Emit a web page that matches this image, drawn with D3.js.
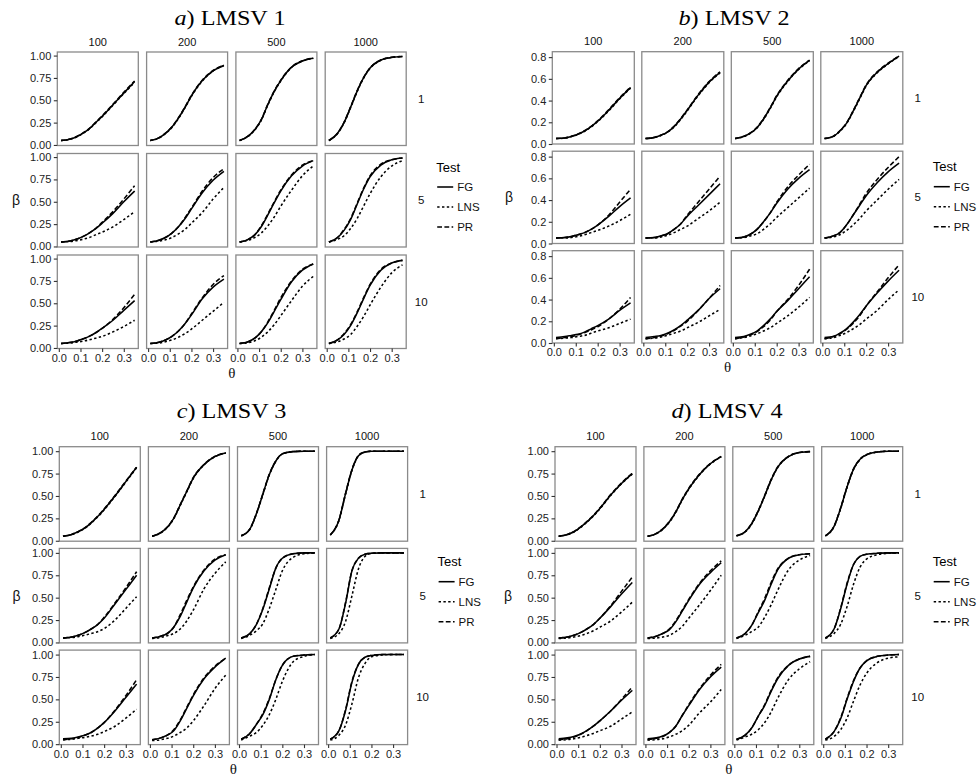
<!DOCTYPE html>
<html><head><meta charset="utf-8">
<script src="https://cdn.jsdelivr.net/npm/d3@7"></script>
<style>body{margin:0;background:#fff;}svg{display:block;}</style>
</head><body><svg id="c" width="979" height="778"></svg>
<script>
// ---- data ----
const thetas = [0.01, 0.05, 0.08, 0.11, 0.14, 0.17, 0.20, 0.25, 0.30, 0.35];
const sampleSizes = ["100", "200", "500", "1000"];
const lagLabels = ["1", "5", "10"];
const tests = ["FG", "LNS", "PR"];
const xTicks = [0, 0.1, 0.2, 0.3];
const yTicks01 = [0, 0.25, 0.5, 0.75, 1];
const yTicks08 = [0, 0.2, 0.4, 0.6, 0.8];

// rows = lag 1,5,10 ; columns = n 100,200,500,1000
const lmsv1FG = [
 [[0.05,0.065,0.09,0.13,0.18,0.25,0.32,0.45,0.58,0.71],[0.05,0.08,0.13,0.2,0.3,0.42,0.55,0.72,0.83,0.89],[0.05,0.1,0.17,0.28,0.45,0.6,0.72,0.87,0.94,0.97],[0.05,0.13,0.25,0.42,0.6,0.75,0.86,0.95,0.98,0.99]],
 [[0.05,0.06,0.08,0.11,0.15,0.2,0.26,0.37,0.5,0.62],[0.05,0.07,0.1,0.15,0.22,0.31,0.42,0.6,0.74,0.84],[0.05,0.08,0.13,0.22,0.35,0.49,0.62,0.79,0.9,0.96],[0.05,0.1,0.18,0.3,0.47,0.64,0.78,0.91,0.97,0.99]],
 [[0.05,0.06,0.075,0.1,0.13,0.17,0.22,0.31,0.42,0.53],[0.05,0.065,0.09,0.13,0.19,0.27,0.37,0.55,0.68,0.77],[0.05,0.07,0.11,0.18,0.28,0.41,0.54,0.74,0.87,0.94],[0.05,0.09,0.15,0.25,0.39,0.55,0.7,0.87,0.95,0.98]]
];
const lmsv1LNS = [
 [[0.05,0.062,0.087,0.126,0.176,0.245,0.315,0.445,0.575,0.70],[0.05,0.078,0.127,0.196,0.295,0.415,0.545,0.715,0.828,0.888],[0.05,0.098,0.167,0.276,0.445,0.595,0.716,0.867,0.938,0.969],[0.05,0.128,0.246,0.415,0.595,0.746,0.857,0.948,0.979,0.99]],
 [[0.05,0.055,0.065,0.08,0.1,0.13,0.16,0.22,0.3,0.39],[0.05,0.06,0.075,0.1,0.14,0.19,0.26,0.38,0.53,0.66],[0.05,0.07,0.1,0.15,0.23,0.33,0.45,0.63,0.79,0.9],[0.05,0.08,0.12,0.2,0.31,0.45,0.59,0.78,0.9,0.96]],
 [[0.05,0.055,0.065,0.075,0.09,0.11,0.13,0.18,0.24,0.31],[0.05,0.055,0.07,0.09,0.12,0.16,0.21,0.31,0.41,0.51],[0.05,0.06,0.08,0.12,0.18,0.26,0.36,0.53,0.69,0.8],[0.05,0.07,0.1,0.15,0.24,0.35,0.48,0.68,0.84,0.93]]
];
const lmsv1PR = [
 [[0.05,0.066,0.092,0.132,0.183,0.253,0.325,0.455,0.59,0.715],[0.05,0.081,0.132,0.203,0.304,0.424,0.555,0.724,0.833,0.892],[0.05,0.101,0.172,0.283,0.454,0.604,0.724,0.872,0.942,0.971],[0.05,0.131,0.253,0.424,0.604,0.754,0.862,0.951,0.981,0.99]],
 [[0.05,0.06,0.08,0.11,0.15,0.2,0.27,0.39,0.53,0.68],[0.05,0.07,0.1,0.15,0.22,0.32,0.43,0.62,0.77,0.87],[0.05,0.08,0.13,0.23,0.36,0.5,0.63,0.8,0.91,0.96],[0.05,0.1,0.19,0.31,0.48,0.65,0.79,0.92,0.97,0.99]],
 [[0.05,0.06,0.075,0.1,0.13,0.17,0.22,0.32,0.45,0.6],[0.05,0.065,0.09,0.13,0.19,0.27,0.38,0.56,0.71,0.81],[0.05,0.07,0.11,0.18,0.29,0.42,0.56,0.75,0.88,0.94],[0.05,0.09,0.16,0.26,0.4,0.56,0.71,0.88,0.95,0.98]]
];

const lmsv2FG = [
 [[0.05,0.055,0.07,0.09,0.12,0.16,0.21,0.31,0.42,0.52],[0.05,0.06,0.08,0.11,0.16,0.23,0.31,0.45,0.57,0.66],[0.05,0.07,0.1,0.15,0.23,0.33,0.44,0.58,0.69,0.77],[0.05,0.07,0.12,0.19,0.3,0.42,0.54,0.66,0.74,0.81]],
 [[0.05,0.055,0.065,0.08,0.1,0.13,0.17,0.25,0.34,0.42],[0.05,0.055,0.07,0.09,0.13,0.18,0.25,0.35,0.45,0.55],[0.05,0.06,0.085,0.13,0.2,0.28,0.37,0.5,0.6,0.68],[0.05,0.07,0.1,0.17,0.26,0.35,0.44,0.56,0.66,0.74]],
 [[0.05,0.06,0.07,0.08,0.1,0.13,0.16,0.22,0.3,0.37],[0.05,0.06,0.07,0.09,0.12,0.16,0.21,0.3,0.41,0.5],[0.05,0.06,0.08,0.11,0.16,0.22,0.29,0.39,0.5,0.61],[0.05,0.06,0.09,0.13,0.19,0.26,0.34,0.46,0.57,0.67]]
];
const lmsv2LNS = [
 [[0.05,0.054,0.068,0.088,0.117,0.157,0.206,0.305,0.415,0.515],[0.05,0.059,0.078,0.107,0.156,0.225,0.305,0.445,0.565,0.655],[0.05,0.068,0.098,0.147,0.226,0.325,0.435,0.575,0.686,0.767],[0.05,0.069,0.117,0.186,0.295,0.415,0.535,0.656,0.737,0.807]],
 [[0.05,0.05,0.055,0.065,0.08,0.1,0.12,0.16,0.21,0.27],[0.05,0.05,0.06,0.075,0.1,0.13,0.16,0.23,0.3,0.38],[0.05,0.055,0.07,0.09,0.13,0.18,0.24,0.33,0.42,0.51],[0.05,0.06,0.08,0.12,0.17,0.23,0.3,0.4,0.5,0.59]],
 [[0.04,0.045,0.05,0.06,0.07,0.09,0.11,0.14,0.18,0.22],[0.04,0.045,0.055,0.07,0.09,0.11,0.14,0.19,0.25,0.31],[0.04,0.05,0.065,0.085,0.11,0.14,0.18,0.25,0.33,0.42],[0.04,0.05,0.07,0.095,0.13,0.17,0.22,0.3,0.4,0.49]]
];
const lmsv2PR = [
 [[0.05,0.056,0.071,0.092,0.122,0.163,0.213,0.315,0.425,0.525],[0.05,0.061,0.081,0.112,0.163,0.233,0.314,0.455,0.575,0.665],[0.05,0.071,0.102,0.153,0.234,0.334,0.445,0.585,0.694,0.773],[0.05,0.071,0.122,0.193,0.304,0.425,0.545,0.664,0.744,0.812]],
 [[0.05,0.055,0.065,0.08,0.1,0.13,0.17,0.26,0.38,0.5],[0.05,0.055,0.07,0.09,0.13,0.18,0.26,0.38,0.5,0.62],[0.05,0.06,0.085,0.13,0.2,0.28,0.38,0.52,0.63,0.73],[0.05,0.07,0.1,0.17,0.26,0.36,0.46,0.59,0.7,0.8]],
 [[0.04,0.05,0.06,0.075,0.095,0.12,0.15,0.22,0.31,0.42],[0.04,0.05,0.065,0.085,0.115,0.155,0.2,0.3,0.41,0.53],[0.04,0.055,0.075,0.105,0.15,0.21,0.29,0.4,0.53,0.68],[0.04,0.06,0.085,0.125,0.18,0.25,0.34,0.47,0.6,0.72]]
];

const lmsv3FG = [
 [[0.05,0.07,0.1,0.14,0.2,0.27,0.35,0.5,0.66,0.82],[0.05,0.09,0.15,0.25,0.4,0.55,0.7,0.85,0.94,0.98],[0.055,0.13,0.3,0.52,0.74,0.89,0.97,0.995,1,1],[0.065,0.23,0.52,0.79,0.95,0.99,1,1,1,1]],
 [[0.05,0.06,0.08,0.11,0.15,0.2,0.27,0.43,0.59,0.75],[0.05,0.07,0.1,0.17,0.29,0.45,0.61,0.8,0.92,0.98],[0.05,0.1,0.2,0.37,0.6,0.83,0.94,0.99,1,1],[0.05,0.15,0.43,0.8,0.94,0.985,0.995,1,1,1]],
 [[0.06,0.065,0.08,0.1,0.13,0.18,0.24,0.37,0.52,0.67],[0.05,0.07,0.1,0.15,0.26,0.4,0.54,0.73,0.86,0.96],[0.055,0.12,0.22,0.33,0.5,0.72,0.88,0.98,0.995,1],[0.055,0.15,0.37,0.69,0.89,0.97,0.99,1,1,1]]
];
const lmsv3LNS = [
 [[0.05,0.068,0.097,0.137,0.196,0.265,0.345,0.495,0.655,0.815],[0.05,0.088,0.147,0.246,0.395,0.545,0.695,0.847,0.938,0.979],[0.055,0.128,0.296,0.515,0.735,0.886,0.968,0.995,1,1],[0.065,0.226,0.515,0.786,0.948,0.99,1,1,1,1]],
 [[0.05,0.055,0.065,0.08,0.1,0.12,0.155,0.25,0.38,0.51],[0.045,0.055,0.075,0.1,0.15,0.24,0.36,0.6,0.77,0.9],[0.045,0.08,0.13,0.21,0.38,0.59,0.8,0.95,0.99,1],[0.045,0.1,0.23,0.52,0.82,0.96,0.995,1,1,1]],
 [[0.05,0.055,0.065,0.075,0.09,0.11,0.14,0.2,0.29,0.39],[0.04,0.05,0.065,0.09,0.13,0.18,0.26,0.43,0.62,0.77],[0.045,0.09,0.13,0.21,0.33,0.5,0.7,0.92,0.98,1],[0.045,0.1,0.21,0.45,0.74,0.9,0.975,0.995,1,1]]
];
const lmsv3PR = [
 [[0.05,0.071,0.102,0.143,0.204,0.274,0.355,0.505,0.665,0.822],[0.05,0.091,0.152,0.253,0.404,0.554,0.704,0.853,0.942,0.981],[0.055,0.131,0.303,0.524,0.744,0.893,0.972,0.996,1,1],[0.065,0.233,0.524,0.794,0.952,0.991,1,1,1,1]],
 [[0.05,0.06,0.08,0.11,0.15,0.2,0.28,0.44,0.61,0.79],[0.05,0.07,0.1,0.17,0.31,0.47,0.62,0.81,0.93,0.98],[0.05,0.1,0.2,0.38,0.61,0.83,0.94,0.99,1,1],[0.05,0.15,0.44,0.8,0.94,0.985,0.995,1,1,1]],
 [[0.05,0.06,0.075,0.1,0.13,0.18,0.24,0.38,0.54,0.72],[0.05,0.07,0.1,0.16,0.27,0.41,0.55,0.74,0.87,0.96],[0.055,0.12,0.22,0.34,0.51,0.72,0.88,0.98,0.995,1],[0.055,0.15,0.38,0.7,0.89,0.97,0.99,1,1,1]]
];

const lmsv4FG = [
 [[0.05,0.07,0.1,0.15,0.21,0.28,0.36,0.51,0.64,0.75],[0.05,0.08,0.13,0.21,0.32,0.46,0.58,0.74,0.86,0.94],[0.055,0.1,0.19,0.33,0.5,0.68,0.82,0.94,0.985,0.995],[0.055,0.16,0.36,0.6,0.8,0.91,0.96,0.99,1,1]],
 [[0.05,0.06,0.08,0.11,0.15,0.2,0.27,0.4,0.54,0.67],[0.05,0.07,0.1,0.14,0.23,0.35,0.47,0.65,0.78,0.89],[0.05,0.1,0.19,0.33,0.47,0.65,0.81,0.94,0.98,0.99],[0.05,0.15,0.37,0.65,0.87,0.96,0.985,0.995,1,1]],
 [[0.06,0.07,0.085,0.11,0.15,0.2,0.26,0.37,0.49,0.6],[0.06,0.07,0.09,0.13,0.2,0.32,0.43,0.61,0.75,0.86],[0.055,0.1,0.18,0.31,0.43,0.59,0.73,0.88,0.95,0.98],[0.055,0.14,0.28,0.5,0.7,0.85,0.93,0.98,0.995,1]]
];
const lmsv4LNS = [
 [[0.05,0.068,0.097,0.146,0.206,0.275,0.355,0.505,0.636,0.745],[0.05,0.078,0.127,0.206,0.315,0.455,0.575,0.736,0.857,0.938],[0.055,0.098,0.186,0.325,0.495,0.675,0.816,0.938,0.984,0.995],[0.055,0.157,0.355,0.595,0.796,0.907,0.958,0.99,1,1]],
 [[0.045,0.05,0.06,0.075,0.1,0.13,0.17,0.24,0.34,0.45],[0.045,0.05,0.06,0.08,0.12,0.18,0.27,0.42,0.58,0.75],[0.045,0.08,0.12,0.17,0.28,0.42,0.58,0.81,0.92,0.97],[0.045,0.1,0.2,0.4,0.65,0.84,0.93,0.98,0.995,1]],
 [[0.045,0.05,0.06,0.075,0.095,0.12,0.15,0.2,0.28,0.36],[0.045,0.05,0.06,0.08,0.11,0.15,0.21,0.35,0.47,0.61],[0.045,0.08,0.11,0.16,0.24,0.36,0.51,0.72,0.84,0.92],[0.045,0.085,0.16,0.29,0.48,0.66,0.79,0.91,0.96,0.975]]
];
const lmsv4PR = [
 [[0.05,0.071,0.102,0.153,0.214,0.284,0.365,0.515,0.645,0.755],[0.05,0.081,0.132,0.213,0.324,0.464,0.585,0.744,0.863,0.942],[0.055,0.101,0.193,0.334,0.504,0.684,0.824,0.942,0.986,0.995],[0.055,0.162,0.364,0.604,0.804,0.912,0.962,0.99,1,1]],
 [[0.05,0.06,0.08,0.11,0.15,0.2,0.27,0.41,0.57,0.73],[0.05,0.07,0.1,0.15,0.24,0.36,0.48,0.66,0.8,0.91],[0.05,0.1,0.19,0.34,0.49,0.67,0.82,0.94,0.98,0.99],[0.05,0.15,0.38,0.66,0.87,0.96,0.985,0.995,1,1]],
 [[0.05,0.06,0.08,0.11,0.15,0.2,0.26,0.37,0.5,0.64],[0.05,0.065,0.085,0.13,0.2,0.32,0.44,0.62,0.77,0.89],[0.055,0.1,0.18,0.31,0.44,0.6,0.74,0.88,0.95,0.98],[0.055,0.14,0.29,0.51,0.71,0.85,0.93,0.98,0.995,1]]
];

// ---- layout / panels ----
const panels = [
  {letter:"a", name:"LMSV 1", FG:lmsv1FG, LNS:lmsv1LNS, PR:lmsv1PR, yDomain:[-0.006,1.04], yTicks:yTicks01, yFmt:".2f",
   left:57.3, top:52, w:81, h:93.5, sx:89.3, sy:101.5, titleX:230, titleY:25, betaX:16},
  {letter:"b", name:"LMSV 2", FG:lmsv2FG, LNS:lmsv2LNS, PR:lmsv2PR, yDomain:[0,0.85], yTicks:yTicks08, yFmt:".1f",
   left:552.3, top:51.7, w:82, h:92.3, sx:89.5, sy:99.5, titleX:734, titleY:25, betaX:509},
  {letter:"c", name:"LMSV 3", FG:lmsv3FG, LNS:lmsv3LNS, PR:lmsv3PR, yDomain:[-0.005,1.05], yTicks:yTicks01, yFmt:".2f",
   left:59.3, top:446.7, w:81, h:94.5, sx:89.1, sy:101.7, titleX:231.5, titleY:418, betaX:16.5},
  {letter:"d", name:"LMSV 4", FG:lmsv4FG, LNS:lmsv4LNS, PR:lmsv4PR, yDomain:[-0.005,1.05], yTicks:yTicks01, yFmt:".2f",
   left:555, top:446.7, w:81, h:94.5, sx:88.9, sy:101.7, titleX:727, titleY:418, betaX:508}
];
const xDomain = [-0.007, 0.367];
const dash = {FG:null, LNS:"2.4,2.4", PR:"4.8,2.4"};
const sans = "'Liberation Sans', Arial, Helvetica, sans-serif";
const serif = "'Liberation Serif', 'Times New Roman', serif";
const lw = 1.55;

const svg = d3.select("#c");
svg.append("rect").attr("width",979).attr("height",778).attr("fill","#fff");

panels.forEach(p => {
  const g = svg.append("g");
  const x = d3.scaleLinear().domain(xDomain).range([0, p.w]);
  const y = d3.scaleLinear().domain(p.yDomain).range([p.h, 0]);
  const line = d3.line().x((d,i) => x(thetas[i])).y(d => y(d)).curve(d3.curveMonotoneX);

  // title
  const t = g.append("text").attr("transform", `translate(${p.titleX},${p.titleY}) scale(1.18,1)`)
    .attr("text-anchor","middle").attr("font-family", serif).attr("font-size", 20.5).attr("fill","#000");
  t.append("tspan").attr("font-style","italic").text(p.letter);
  t.append("tspan").text(") " + p.name);

  const right = p.left + 3*p.sx + p.w;
  const bottom = p.top + 2*p.sy + p.h;

  sampleSizes.forEach((s, c) => {
    g.append("text").attr("x", p.left + c*p.sx + p.w/2).attr("y", p.top - 6.5)
      .attr("text-anchor","middle").attr("font-family", sans).attr("font-size", 11).attr("fill","#111").text(s);
  });
  lagLabels.forEach((l, r) => {
    g.append("text").attr("x", right + 15).attr("y", p.top + r*p.sy + p.h/2).attr("dy","0.35em")
      .attr("text-anchor","middle").attr("font-family", sans).attr("font-size", 11.5).attr("fill","#111").text(l);
  });

  for (let r = 0; r < 3; r++) {
    for (let c = 0; c < 4; c++) {
      const fg = g.append("g").attr("transform", `translate(${p.left + c*p.sx},${p.top + r*p.sy})`);
      tests.forEach(tk => {
        fg.append("path").attr("d", line(p[tk][r][c])).attr("fill","none")
          .attr("stroke","#000").attr("stroke-width",lw).attr("stroke-dasharray", dash[tk]);
      });
      fg.append("rect").attr("x",0).attr("y",0).attr("width",p.w).attr("height",p.h)
        .attr("fill","none").attr("stroke","#8a8a8a").attr("stroke-width",1.3);
      if (c === 0) {
        const ax = fg.append("g").call(d3.axisLeft(y).tickValues(p.yTicks).tickFormat(d3.format(p.yFmt)).tickSize(3.5).tickPadding(2.5));
        ax.select(".domain").remove();
        ax.selectAll("line").attr("stroke","#333").attr("stroke-width",1.1);
        ax.selectAll("text").attr("font-family", sans).attr("font-size", 11).attr("fill","#222");
      }
      if (r === 2) {
        const ax = fg.append("g").attr("transform", `translate(0,${p.h})`)
          .call(d3.axisBottom(x).tickValues(xTicks).tickFormat(d3.format(".1f")).tickSize(3.5).tickPadding(2));
        ax.select(".domain").remove();
        ax.selectAll("line").attr("stroke","#333").attr("stroke-width",1.1);
        ax.selectAll("text").attr("font-family", sans).attr("font-size", 11).attr("fill","#222");
      }
    }
  }

  // axis titles
  g.append("text").attr("x", p.betaX).attr("y", (p.top + bottom)/2).attr("dy","0.35em").attr("text-anchor","middle")
    .attr("font-family", sans).attr("font-size", 14).attr("fill","#111").text("β");
  g.append("text").attr("x", (p.left + right)/2).attr("y", bottom + 29).attr("text-anchor","middle")
    .attr("font-family", serif).attr("font-size", 15).attr("fill","#111").text("θ");

  // legend
  const lx = right + 30;
  g.append("text").attr("x", lx).attr("y", p.top + 115).attr("dy","0.35em")
    .attr("font-family", sans).attr("font-size", 13).attr("fill","#000").text("Test");
  tests.forEach((tk, i) => {
    const ly = p.top + 135 + i*20;
    g.append("line").attr("x1", lx + 1).attr("x2", lx + 17).attr("y1", ly).attr("y2", ly)
      .attr("stroke","#000").attr("stroke-width",lw).attr("stroke-dasharray", dash[tk]);
    g.append("text").attr("x", lx + 21).attr("y", ly).attr("dy","0.35em")
      .attr("font-family", sans).attr("font-size", 11.5).attr("fill","#111").text(tk);
  });
});
</script>
</body></html>
